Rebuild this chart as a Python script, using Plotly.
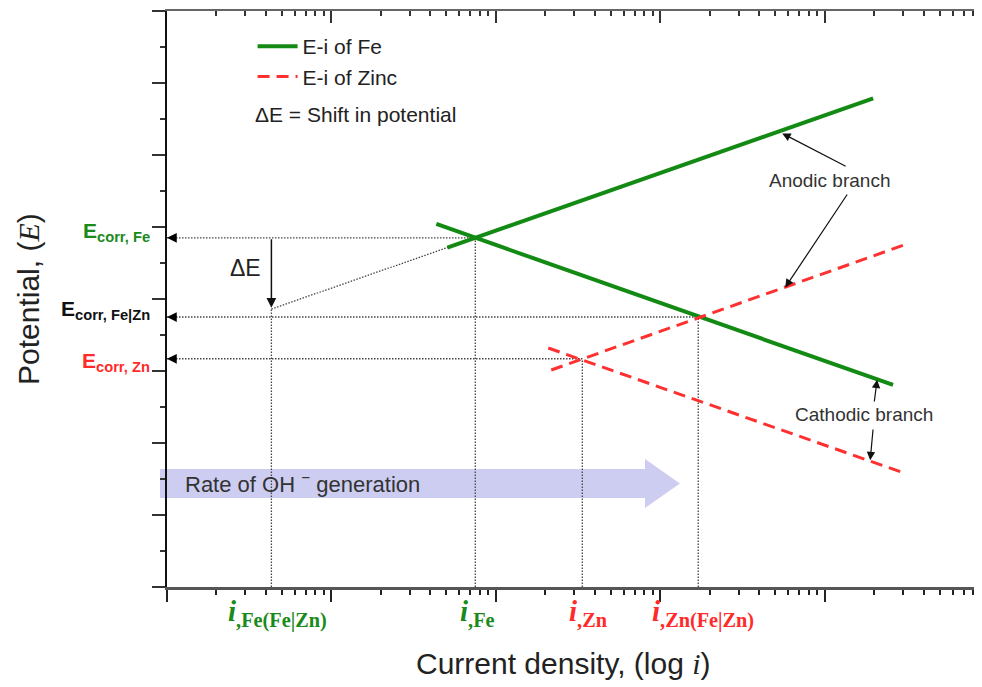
import plotly.graph_objects as go

# ---------------- data (x stored as log10 of current density, E in arbitrary potential units) -------------
fe_anodic_logi = [1.705, 4.295]
fe_anodic_E = [4.714, 6.786]
fe_cathodic_logi = [1.638, 4.416]
fe_cathodic_E = [5.042, 2.806]
zn_anodic_logi = [2.337, 4.483]
zn_anodic_E = [3.014, 4.750]
zn_cathodic_logi = [2.319, 4.483]
zn_cathodic_E = [3.319, 1.583]

# key points: couple point on Fe anodic extrapolation, Fe corrosion, Zn corrosion, couple current
pt_fe_couple = (0.635, 3.86)
pt_fe = (1.875, 4.85)
pt_zn = (2.526, 3.17)
pt_couple = (3.231, 3.75)

x_tick_labels = ["<b><i>i</i><sub>,Fe(Fe|Zn)</sub></b>", "<b><i>i</i><sub>,Fe</sub></b>",
                 "<b><i>i</i><sub>,Zn</sub></b>", "<b><i>i</i><sub>,Zn(Fe|Zn)</sub></b>"]
x_tick_colors = ["#1a8a1a", "#1a8a1a", "#ff2a2a", "#ff2a2a"]
y_labels = ["<b>E<sub>corr, Fe</sub></b>", "<b>E<sub>corr, Fe|Zn</sub></b>", "<b>E<sub>corr, Zn</sub></b>"]
y_label_colors = ["#1a8a1a", "#111111", "#ff2a2a"]

GREEN = "#138a13"
RED = "#ff3030"
DOT = dict(color="#444444", width=1.3, dash="1.5px,1.5px")
SANS = "Liberation Sans, Arial, sans-serif"
SERIF = "Liberation Serif, Times New Roman, serif"

X_MAX_LOG = 4.957


def X(vals):
    return [10 ** v for v in vals]


fig = go.Figure()

# dotted construction lines
for (lx, ly) in [pt_fe, pt_couple, pt_zn]:
    fig.add_trace(go.Scatter(x=X([0, lx]), y=[ly, ly], mode="lines", line=DOT,
                             showlegend=False, hoverinfo="skip"))
for (lx, ly) in [pt_fe_couple, pt_fe, pt_zn, pt_couple]:
    fig.add_trace(go.Scatter(x=X([lx, lx]), y=[0, ly], mode="lines", line=DOT,
                             showlegend=False, hoverinfo="skip"))
fig.add_trace(go.Scatter(x=X([pt_fe_couple[0], pt_fe[0]]), y=[pt_fe_couple[1], pt_fe[1]],
                         mode="lines", line=DOT, showlegend=False, hoverinfo="skip"))

# polarisation lines
fig.add_trace(go.Scatter(x=X(fe_anodic_logi), y=fe_anodic_E, mode="lines", name="E-i of Fe",
                         line=dict(color=GREEN, width=4), legendgroup="fe"))
fig.add_trace(go.Scatter(x=X(fe_cathodic_logi), y=fe_cathodic_E, mode="lines", name="E-i of Fe",
                         line=dict(color=GREEN, width=4), legendgroup="fe", showlegend=False))
fig.add_trace(go.Scatter(x=X(zn_anodic_logi), y=zn_anodic_E, mode="lines", name="E-i of Zinc",
                         line=dict(color=RED, width=3, dash="12px,7px"), legendgroup="zn"))
fig.add_trace(go.Scatter(x=X(zn_cathodic_logi), y=zn_cathodic_E, mode="lines", name="E-i of Zinc",
                         line=dict(color=RED, width=3, dash="12px,7px"), legendgroup="zn",
                         showlegend=False))

# helper trace so the mirrored (top / right) tick axes exist
fig.add_trace(go.Scatter(x=[1], y=[0], xaxis="x2", yaxis="y2", mode="markers",
                         marker=dict(opacity=0), showlegend=False, hoverinfo="skip"))

major_x = [10 ** d for d in range(0, 5)]
minor_x = [k * 10 ** d for d in range(0, 5) for k in range(2, 10) if k * 10 ** d <= 10 ** X_MAX_LOG]
major_y = list(range(0, 9))
minor_y = [v + 0.5 for v in range(0, 8)]

ann = []
# arrowheads on the left axis
for (lx, ly) in [pt_fe, pt_couple, pt_zn]:
    ann.append(dict(x=0, y=ly, xref="x", yref="y", text="", showarrow=True, ax=10, ay=0,
                    arrowhead=2, arrowsize=1.3, arrowwidth=1.5, arrowcolor="#000", standoff=0))
# delta E arrow
ann.append(dict(x=pt_fe_couple[0], y=pt_fe_couple[1] + 0.02, xref="x", yref="y", text="",
                showarrow=True, ax=pt_fe_couple[0], ay=pt_fe[1], axref="x", ayref="y",
                arrowhead=2, arrowsize=1.3, arrowwidth=1.5, arrowcolor="#111"))
ann.append(dict(x=0.477, y=4.43, xref="x", yref="y", text="ΔE", showarrow=False,
                font=dict(family=SANS, size=23, color="#222")))
# legend third line
ann.append(dict(x=0.523, y=6.556, xref="x", yref="y", text="ΔE = Shift in potential", showarrow=False,
                xanchor="left", font=dict(family=SANS, size=21, color="#222")))
# branch labels
ann.append(dict(x=4.027, y=5.64, xref="x", yref="y", text="Anodic branch", showarrow=False,
                font=dict(family=SANS, size=19, color="#333")))
ann.append(dict(x=4.240, y=2.389, xref="x", yref="y", text="Cathodic branch", showarrow=False,
                font=dict(family=SANS, size=19, color="#333")))
for (hx, hy, tx, ty) in [(3.742, 6.30, 4.137, 5.833), (3.760, 4.16, 4.143, 5.472),
                         (4.319, 2.88, 4.301, 2.556), (4.277, 1.76, 4.295, 2.208)]:
    ann.append(dict(x=hx, y=hy, xref="x", yref="y", text="", showarrow=True, ax=tx, ay=ty,
                    axref="x", ayref="y", arrowhead=2, arrowsize=1.4, arrowwidth=1.2,
                    arrowcolor="#111", standoff=0))
# OH- arrow text
ann.append(dict(x=0.10, y=1.444, xref="x", yref="y", text="Rate of OH <sup>−</sup> generation",
                showarrow=False, xanchor="left", font=dict(family=SANS, size=22, color="#333")))
# x labels
for (pt, txt, col, sh) in zip([pt_fe_couple, pt_fe, pt_zn, pt_couple], x_tick_labels, x_tick_colors,
                              [6, 2, 6, 5]):
    ann.append(dict(x=pt[0], y=0, xref="x", yref="paper", text=txt, showarrow=False,
                    xanchor="center", yanchor="top", yshift=-6, xshift=sh,
                    font=dict(family=SERIF, size=29, color=col)))
# y labels
for (yv, txt, col) in zip([4.93, 3.85, 3.13], y_labels, y_label_colors):
    ann.append(dict(x=0, y=yv, xref="paper", yref="y", text=txt, showarrow=False,
                    xanchor="right", yanchor="middle", xshift=-15,
                    font=dict(family=SANS, size=21, color=col)))
# axis titles
ann.append(dict(x=0, y=0.5, xref="paper", yref="paper", text="Potential, (<i><span style='font-family:Liberation Serif'>E</span></i>)",
                showarrow=False, textangle=-90, xanchor="center", yanchor="middle", xshift=-139,
                font=dict(family=SANS, size=30, color="#222")))
ann.append(dict(x=0.487, y=0, xref="paper", yref="paper",
                text="Current density, (log <i><span style='font-family:Liberation Serif'>i</span></i>)",
                showarrow=False, xanchor="center", yanchor="middle", yshift=-76,
                font=dict(family=SANS, size=30, color="#222")))

# big lavender arrow (decoration, paper coords)
ax0, ax1, axt = -0.0086, 0.5865, 0.6294
yb0, yb1, yh0, yh1, ytip = 0.1545, 0.2049, 0.1372, 0.2222, 0.1797
arrow_path = (f"M{ax0},{yb0} L{ax1},{yb0} L{ax1},{yh0} L{axt},{ytip} L{ax1},{yh1} "
              f"L{ax1},{yb1} L{ax0},{yb1} Z")
shapes = [dict(type="path", xref="paper", yref="paper", path=arrow_path,
               fillcolor="#cdcdf1", line=dict(width=0), layer="below")]

# the page body has an 8px default margin, so the figure is sized/offset to compensate
fig.update_layout(
    width=974, height=679,
    margin=dict(l=159, r=0, t=3, b=100),
    paper_bgcolor="white", plot_bgcolor="white",
    font=dict(family=SANS, color="#222"),
    showlegend=True,
    legend=dict(x=0.105, y=0.974, xanchor="left", yanchor="top", bgcolor="rgba(0,0,0,0)",
                font=dict(family=SANS, size=21, color="#222"), tracegroupgap=0, itemwidth=40),
    xaxis=dict(type="log", range=[0, X_MAX_LOG], showgrid=False, zeroline=False,
               showline=True, linecolor="#555", linewidth=2.5,
               ticks="outside", tickmode="array", tickvals=major_x, ticklen=12, tickwidth=1.5,
               tickcolor="#222", showticklabels=False,
               minor=dict(ticks="outside", tickmode="array", tickvals=minor_x, ticklen=5,
                          tickwidth=1.5, tickcolor="#222", showgrid=False)),
    yaxis=dict(range=[0, 8], showgrid=False, zeroline=False, showline=True, linecolor="#111",
               linewidth=2, ticks="outside", tickmode="array", tickvals=major_y, ticklen=13,
               tickwidth=1.5, tickcolor="#333", showticklabels=False,
               minor=dict(ticks="outside", tickmode="array", tickvals=minor_y, ticklen=5,
                          tickwidth=1.5, tickcolor="#333", showgrid=False)),
    xaxis2=dict(type="log", range=[0, X_MAX_LOG], overlaying="x", side="top", anchor="y2",
                showgrid=False, zeroline=False, showline=True, linecolor="#666", linewidth=2,
                ticks="inside", tickmode="array", tickvals=major_x, ticklen=12, tickwidth=1.5,
                tickcolor="#333", showticklabels=False,
                minor=dict(ticks="inside", tickmode="array", tickvals=minor_x, ticklen=5,
                           tickwidth=1.5, tickcolor="#333", showgrid=False)),
    yaxis2=dict(range=[0, 8], overlaying="y", side="right", anchor="x2", showgrid=False,
                zeroline=False, showline=False, ticks="inside", tickmode="array",
                tickvals=major_y[1:-1], ticklen=5, tickwidth=1.5, tickcolor="#333",
                showticklabels=False),
    annotations=ann,
    shapes=shapes,
)

fig.write_html("out.html")
